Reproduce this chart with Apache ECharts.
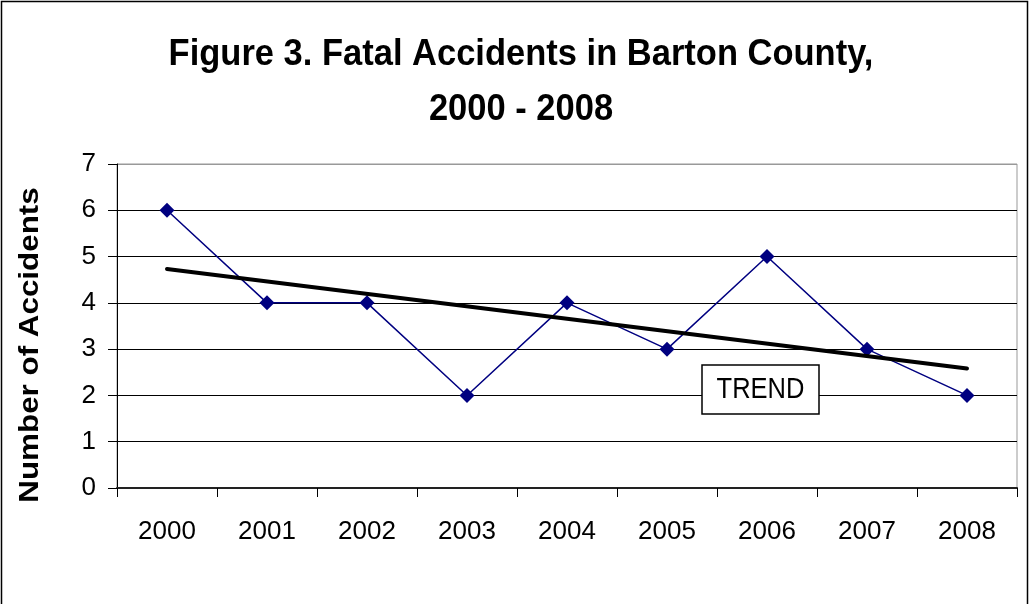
<!DOCTYPE html>
<html><head><meta charset="utf-8">
<script src="https://cdn.jsdelivr.net/npm/echarts@6/dist/echarts.min.js"></script>
<style>html,body{margin:0;padding:0;background:#fff}#c{width:1030px;height:604px}</style>
</head><body><div id="c"></div>
<script>
var years = ['2000','2001','2002','2003','2004','2005','2006','2007','2008'];
var accidents = [6,4,4,2,4,3,5,3,2];
var trendValues = [4.73,null,null,null,null,null,null,null,2.58];
var yTicks = [0,1,2,3,4,5,6,7];
var titleLines = ['Figure 3. Fatal Accidents in Barton County,', '2000 - 2008'];
var yAxisTitle = 'Number of Accidents';
var trendLabel = 'TREND';

var FONT = 'Liberation Sans, Arial, sans-serif';
var chart = echarts.init(document.getElementById('c'), null, {renderer:'canvas'});
chart.setOption({
  animation:false,
  backgroundColor:'#fff',
  grid:{left:117, right:13, top:164, bottom:116, show:true, borderColor:'#999', borderWidth:1, backgroundColor:'transparent'},
  xAxis:{
    type:'category', data:years, boundaryGap:true,
    axisLine:{lineStyle:{color:'#222', width:2}},
    axisTick:{show:true, alignWithLabel:false, length:9, lineStyle:{color:'#000', width:1}},
    axisLabel:{margin:31, fontFamily:FONT, fontSize:26, color:'#000'}
  },
  yAxis:{
    type:'value', min:yTicks[0], max:yTicks[yTicks.length-1], interval:1,
    axisLine:{show:true, lineStyle:{color:'#000', width:1}},
    axisTick:{show:true, length:9, lineStyle:{color:'#000'}},
    axisLabel:{margin:21, fontFamily:FONT, fontSize:26, color:'#000'},
    splitLine:{show:true, lineStyle:{color:['#000','#000','#000','#000','#000','#000','#000','#999'], width:1}}
  },
  graphic:[
    {type:'rect', shape:{x:1.5, y:1.5, width:1026, height:700}, style:{fill:'none', stroke:'#000', lineWidth:1.5}, z:-1},
    {type:'text', x:521, y:55, scaleY:1.05, style:{text:titleLines[0], fontFamily:FONT, fontWeight:'bold', fontSize:34.5, fill:'#000', align:'center', verticalAlign:'middle'}},
    {type:'text', x:521, y:110, scaleY:1.05, style:{text:titleLines[1], fontFamily:FONT, fontWeight:'bold', fontSize:34.5, fill:'#000', align:'center', verticalAlign:'middle'}},
    {type:'text', x:30, y:345, rotation:Math.PI/2, scaleX:1.12, style:{text:yAxisTitle, fontFamily:FONT, fontWeight:'bold', fontSize:28, fill:'#000', align:'center', verticalAlign:'middle'}},
    {type:'rect', shape:{x:702, y:365, width:117, height:49}, style:{fill:'#fff', stroke:'#000', lineWidth:1.5}, z:100},
    {type:'text', x:760.5, y:390, scaleY:1.12, style:{text:trendLabel, fontFamily:FONT, fontSize:25.5, fill:'#000', align:'center', verticalAlign:'middle'}, z:101}
  ],
  series:[
    {type:'line', data:accidents, symbol:'diamond', symbolSize:15,
     lineStyle:{color:'#000080', width:1.5}, itemStyle:{color:'#000080'}, z:3},
    {type:'line', data:trendValues, connectNulls:true, symbol:'none',
     lineStyle:{color:'#000', width:4, cap:'round'}, z:4}
  ]
});
</script></body></html>
